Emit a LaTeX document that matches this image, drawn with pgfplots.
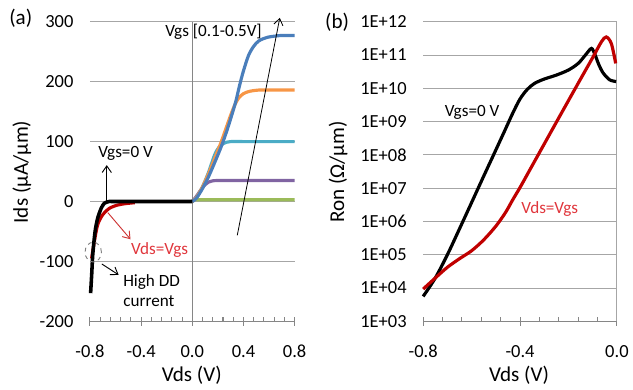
\documentclass[border=0pt]{standalone}
\usepackage{pgfplots}
\pgfplotsset{compat=1.18}
\usepackage{fontspec}
\setmainfont{Carlito}
\usetikzlibrary{arrows.meta}
\definecolor{xlblue}{HTML}{4A7EBB}
\definecolor{xlorange}{HTML}{F79646}
\definecolor{xlteal}{HTML}{4BACC6}
\definecolor{xlpurple}{HTML}{8064A2}
\definecolor{xlgreen}{HTML}{9BBB59}
\definecolor{xlred}{HTML}{C00000}
\definecolor{gridgray}{HTML}{A6A6A6}
\definecolor{axisgray}{HTML}{868686}
\definecolor{txtred}{HTML}{E0363C}
\pgfplotsset{
  xlstyle/.style={
    scale only axis, anchor=south west, height=227.25pt,
    axis x line*=bottom, axis y line*=left,
    y axis line style={draw=none},
    x axis line style={axisgray, line width=0.8pt},
    ytick style={draw=none},
    xtick style={axisgray, line width=0.8pt},
    tick align=inside, major tick length=3pt,
    xticklabels={},
    extra x tick style={tick align=center, major tick length=7pt,
      xticklabel style={yshift=-11pt}},
    ymajorgrids, major grid style={gridgray, line width=0.8pt},
    tick label style={font=\fontsize{14}{16}\selectfont},
    yticklabel style={xshift=-9pt},
    /pgf/number format/assume math mode=true,
    clip=false,
  }
}
\begin{document}
\begin{tikzpicture}
\begin{scope}[x=0.75pt,y=-0.75pt]
\path[use as bounding box] (0,0) rectangle (633,394);
\end{scope}
% ---------------- panel (a)
\begin{axis}[xlstyle, at={(68.25pt,-243.75pt)}, width=155.25pt,
  xmin=-0.8, xmax=0.8, ymin=-200, ymax=300,
  xtick={-0.8,-0.72,...,0.81},
  extra x ticks={-0.8,-0.4,0,0.4,0.8},
  extra x tick labels={-0.8,-0.4,0.0,0.4,0.8},
  ytick={-200,-100,0,100,200,300},
  yticklabels={-200,-100,0,100,200,300},
]
\draw[axisgray, line width=0.8pt] (axis cs:0,-200) -- (axis cs:0,300);
\addplot[xlgreen, line width=2.4pt] coordinates {(0,1) (0.02,3) (0.8,3)};
\addplot[xlpurple, line width=2.4pt, smooth, tension=0.5] coordinates {
(0,0) (0.03,8) (0.072,21) (0.10,28) (0.124,32) (0.16,34.5) (0.2,35) (0.3,35) (0.8,35)};
\addplot[xlteal, line width=2.4pt, smooth, tension=0.5] coordinates {
(0,0) (0.03,6) (0.07,20) (0.124,47) (0.175,78) (0.21,91) (0.25,97.5) (0.30,100) (0.4,100) (0.8,100)};
\addplot[xlorange, line width=2.4pt, smooth, tension=0.5] coordinates {
(0,0) (0.03,6) (0.07,20) (0.124,45) (0.175,72) (0.227,100) (0.27,126) (0.30,144) (0.33,160) (0.36,172) (0.40,180) (0.45,184) (0.52,186) (0.6,186) (0.8,186)};
\addplot[xlblue, line width=2.4pt, smooth, tension=0.5] coordinates {
(0,0) (0.03,5) (0.07,18) (0.124,40) (0.175,65) (0.227,92) (0.27,118) (0.304,141) (0.34,167) (0.37,194) (0.40,218) (0.44,244) (0.48,259) (0.52,268) (0.587,274) (0.69,277) (0.8,277)};
\addplot[xlred, line width=2.4pt, smooth, tension=0.5] coordinates {
(-0.787,-95) (-0.77,-72) (-0.74,-39) (-0.70,-22) (-0.65,-11.6) (-0.585,-6) (-0.52,-3.5) (-0.45,-2)};
\addplot[black, line width=2.7pt, smooth, tension=0.4] coordinates {
(-0.795,-153) (-0.786,-120) (-0.778,-88) (-0.76,-50) (-0.74,-28) (-0.713,-11.6) (-0.688,-3) (-0.65,0) (-0.6,0) (0,0)};
\end{axis}
% ---------------- panel (b)
\begin{axis}[xlstyle, at={(321pt,-243.75pt)}, width=147pt,
  xmin=-0.8, xmax=0, ymode=log, ymin=1e3, ymax=1e12,
  xtick={-0.8,-0.72,...,0.01},
  extra x ticks={-0.8,-0.4,0},
  extra x tick labels={-0.8,-0.4,0.0},
  ytick={1e3,1e4,1e5,1e6,1e7,1e8,1e9,1e10,1e11,1e12},
  yticklabels={1E+03,1E+04,1E+05,1E+06,1E+07,1E+08,1E+09,1E+10,1E+11,1E+12},
  minor ytick={},
]
\draw[gridgray, line width=0.8pt] (axis cs:0,1e3) -- (axis cs:0,1e12);
\addplot[black, line width=2.4pt, smooth, tension=0.5] coordinates {
(-0.800,5.6e3) (-0.75,2.0e4) (-0.70,1.0e5) (-0.65,6.0e5) (-0.60,3.7e6) (-0.55,2.3e7) (-0.50,1.4e8) (-0.46,6.0e8) (-0.43,1.8e9) (-0.40,4.8e9) (-0.37,9.3e9) (-0.34,1.41e10) (-0.30,1.9e10) (-0.25,2.5e10) (-0.20,3.55e10) (-0.16,5.6e10) (-0.13,1.0e11) (-0.105,1.58e11) (-0.09,1.0e11) (-0.075,5.2e10) (-0.057,2.9e10) (-0.03,1.8e10) (-0.003,1.6e10)};
\addplot[xlred, line width=2.4pt, smooth, tension=0.5] coordinates {
(-0.800,9.3e3) (-0.75,2.0e4) (-0.70,4.2e4) (-0.65,7.6e4) (-0.60,1.32e5) (-0.55,2.8e5) (-0.50,7.2e5) (-0.46,1.86e6) (-0.43,4.5e6) (-0.40,1.05e7) (-0.36,3.5e7) (-0.314,1.4e8) (-0.233,1.6e9) (-0.152,1.8e10) (-0.098,8.9e10) (-0.064,2.5e11) (-0.044,3.5e11) (-0.023,2.2e11) (-0.005,5.6e10)};
\end{axis}
% ---------------- annotations
\begin{scope}[x=0.75pt,y=-0.75pt, font=\fontsize{13}{15}\selectfont]
\node[rotate=90, font=\fontsize{16}{18}\selectfont] at (22,174) {Ids (µA/µm)};
\node[font=\fontsize{16}{18}\selectfont] at (194,380) {Vds (V)};
\node[rotate=90, font=\fontsize{16}{18}\selectfont] at (342,174) {Ron (Ω/µm)};
\node[font=\fontsize{16}{18}\selectfont] at (525,380) {Vds (V)};
\node[font=\fontsize{16}{18}\selectfont] at (21,18.5) {(a)};
\node[font=\fontsize{16}{18}\selectfont] at (341,22) {(b)};
\node at (216,32) {Vgs [0.1-0.5V]};
\draw[black, line width=0.6pt, -{Straight Barb[length=5pt,width=7pt]}] (240,238) -- (283,18);
\node at (127,155) {Vgs=0 V};
\draw[black, line width=0.7pt, -{Straight Barb[length=5pt,width=7pt]}] (108,203) -- (108,167);
\draw[xlred!80!white, line width=0.7pt, -{Straight Barb[length=5pt,width=7pt]}] (109,215) -- (132,242);
\node[text=txtred] at (161.5,252.7) {Vds=Vgs};
\draw[gray, dashed, line width=0.7pt] (94.3,255) ellipse [x radius=6.2pt, y radius=7.5pt];
\draw[black, line width=0.7pt, -{Straight Barb[length=5pt,width=7pt]}] (103,267) -- (120,278);
\node[anchor=west] at (120,285) {High DD};
\node[anchor=west] at (120,305) {current};
\node at (477.5,113.3) {Vgs=0 V};
\node[text=txtred] at (556,211.7) {Vds=Vgs};
\end{scope}
\end{tikzpicture}
\end{document}
